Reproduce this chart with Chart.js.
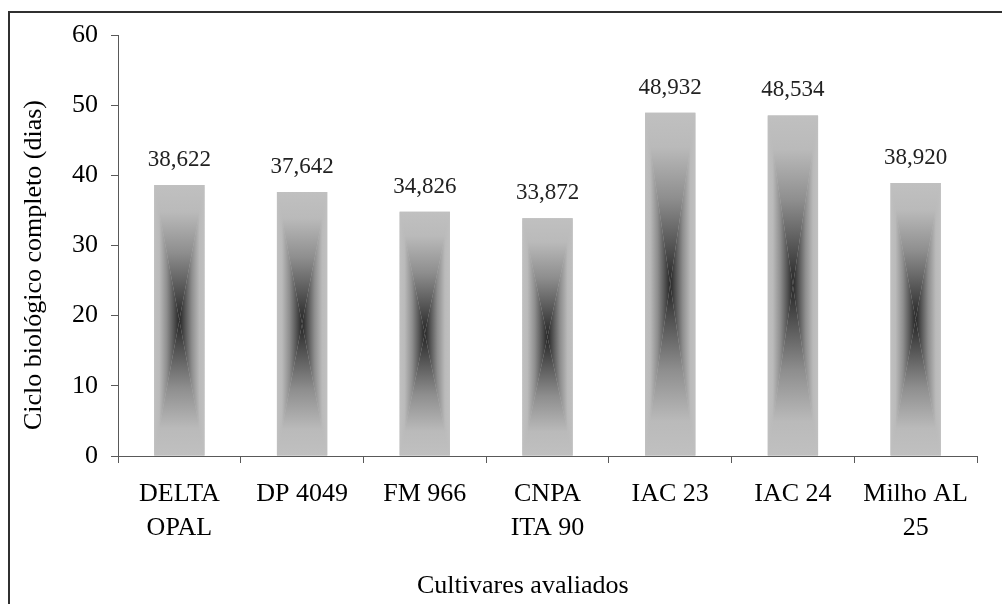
<!DOCTYPE html>
<html>
<head>
<meta charset="utf-8">
<script src="https://cdn.jsdelivr.net/npm/chart.js@4.4.0/dist/chart.umd.min.js"></script>
<style>
  html, body { margin: 0; padding: 0; background: #fff; overflow: hidden; }
  #wrap { position: absolute; left: 0; top: 0; width: 1002px; height: 604px; }
  #frame {
    position: absolute; left: 8px; top: 11px; width: 1100px; height: 700px;
    border-top: 2px solid #303030; border-left: 2px solid #303030;
    pointer-events: none;
  }
</style>
</head>
<body>
<div id="wrap"><canvas id="chart" width="1002" height="604"></canvas></div>
<div id="frame"></div>
<script>
const SERIF = "'Liberation Serif', 'Times New Roman', serif";

// ================= DATA =================
const cultivares = [
    ["DELTA", "OPAL"], "DP 4049", "FM 966", ["CNPA", "ITA 90"],
    "IAC 23", "IAC 24", ["Milho AL", "25"]
];
const cicloDias = [38.622, 37.642, 34.826, 33.872, 48.932, 48.534, 38.920];
const valueLabels = ["38,622", "37,642", "34,826", "33,872", "48,932", "48,534", "38,920"];
const yTicks = [0, 10, 20, 30, 40, 50, 60];

const yTitle = "Ciclo biológico completo (dias)";
const xTitle = "Cultivares avaliados";

// ================= BAR SHADING (rectangular gradient from centre) =================
function shade(ctx, x0, y0, x1, y1){
    const stops = [[0, "#c0c0c0"], [0.2, "#bababa"], [0.5, "#8e8e8e"],
                   [0.75, "#5a5a5a"], [0.92, "#363636"], [1, "#2a2a2a"]];
    const cx = (x0 + x1) / 2, cy = (y0 + y1) / 2;
    const tris = [
        [[x0, y0], [x1, y0], x0, y0, x0, cy],   // top
        [[x1, y1], [x0, y1], x0, y1, x0, cy],   // bottom
        [[x0, y1], [x0, y0], x0, y0, cx, y0],   // left
        [[x1, y0], [x1, y1], x1, y0, cx, y0]    // right
    ];
    tris.forEach(t => {
        const g = ctx.createLinearGradient(t[2], t[3], t[4], t[5]);
        stops.forEach(s => g.addColorStop(s[0], s[1]));
        ctx.beginPath();
        ctx.moveTo(t[0][0], t[0][1]);
        ctx.lineTo(t[1][0], t[1][1]);
        ctx.lineTo(cx, cy);
        ctx.closePath();
        ctx.fillStyle = g;
        ctx.fill();
    });
}

const barShading = {
    id: "barShading",
    afterDatasetsDraw(chart){
        const ctx = chart.ctx;
        const meta = chart.getDatasetMeta(0);
        ctx.save();
        meta.data.forEach((bar, i) => {
            const p = bar.getProps(["x", "y", "base", "width"], true);
            shade(ctx, p.x - p.width / 2, p.y, p.x + p.width / 2, p.base);

            ctx.fillStyle = "#222";
            ctx.font = "23px " + SERIF;
            ctx.textAlign = "center";
            ctx.textBaseline = "alphabetic";
            ctx.fillText(valueLabels[i], p.x, p.y - 19);
        });
        ctx.restore();
    }
};

// ================= AXIS TITLES =================
const axisTitles = {
    id: "axisTitles",
    afterDraw(chart){
        const ctx = chart.ctx;
        ctx.save();
        ctx.fillStyle = "#000";
        ctx.font = "26px " + SERIF;
        ctx.textBaseline = "alphabetic";
        ctx.textAlign = "left";
        ctx.fillText(xTitle, 417, 593);

        ctx.translate(41, 430);
        ctx.rotate(-Math.PI / 2);
        ctx.fillText(yTitle, 0, 0);
        ctx.restore();
    }
};

// ================= CHART =================
const axisColor = "#595959";

new Chart(document.getElementById("chart"), {
    type: "bar",
    data: {
        labels: cultivares,
        datasets: [{
            data: cicloDias,
            backgroundColor: "#bfbfbf",
            borderWidth: 0,
            categoryPercentage: 1,
            barPercentage: 0.41
        }]
    },
    options: {
        responsive: false,
        animation: false,
        layout: { padding: { top: 35, right: 25, left: 0, bottom: 0 } },
        plugins: {
            legend: { display: false },
            tooltip: { enabled: false }
        },
        scales: {
            x: {
                offset: true,
                grid: {
                    offset: true,
                    drawOnChartArea: false,
                    drawTicks: true,
                    tickLength: 7,
                    color: axisColor
                },
                border: { display: true, color: axisColor, width: 1 },
                ticks: {
                    color: "#000",
                    padding: 14,
                    maxRotation: 0,
                    autoSkip: false,
                    font: { family: SERIF, size: 26, lineHeight: 1.31 }
                },
                afterFit(scale){ scale.height = 604 - 456; }
            },
            y: {
                min: 0,
                max: 60,
                afterBuildTicks(scale){ scale.ticks = yTicks.map(v => ({ value: v })); },
                grid: {
                    drawOnChartArea: false,
                    drawTicks: true,
                    tickLength: 7,
                    color: axisColor
                },
                border: { display: true, color: axisColor, width: 1 },
                ticks: {
                    color: "#000",
                    padding: 13,
                    font: { family: SERIF, size: 26 }
                },
                afterFit(scale){ scale.width = 118; }
            }
        }
    },
    plugins: [barShading, axisTitles]
});
</script>
</body>
</html>
